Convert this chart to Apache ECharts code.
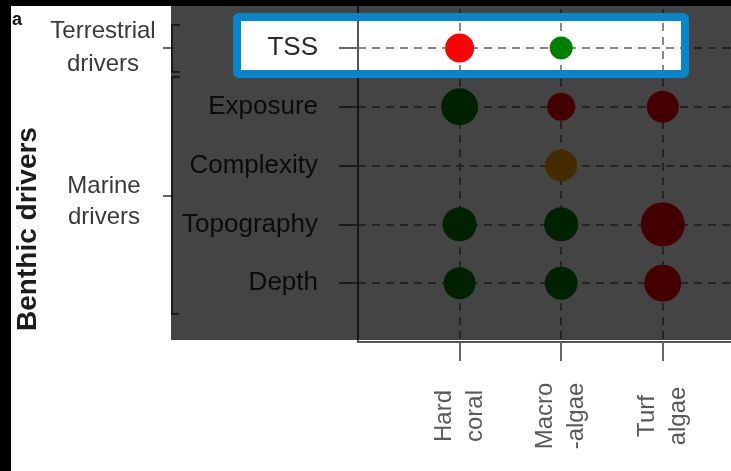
<!DOCTYPE html>
<html>
<head>
<meta charset="utf-8">
<script src="https://cdn.jsdelivr.net/npm/echarts@6/dist/echarts.min.js"></script>
<style>
html,body{margin:0;padding:0;background:#fff;}
#c{width:731px;height:471px;}
</style>
</head>
<body>
<div id="c"></div>
<script>
// Benthic groups (x axis) and drivers (y axis, top to bottom)
var benthicGroups = ['Hard\ncoral', 'Macro\n-algae', 'Turf\nalgae'];
var drivers = ['TSS', 'Exposure', 'Complexity', 'Topography', 'Depth'];

// Relative influence of each driver (null = not retained), per benthic group, in driver order
var hardCoralInfluence  = [0.29, 0.37, null, 0.34, 0.32];
var macroalgaeInfluence = [0.23, 0.28, 0.32, 0.34, 0.33];
var turfAlgaeInfluence  = [null, 0.32, null, 0.44, 0.37];

// Direction of effect: 'pos', 'neg', 'uni' (unimodal)
var hardCoralDirection  = ['neg', 'pos', null, 'pos', 'pos'];
var macroalgaeDirection = ['pos', 'neg', 'uni', 'pos', 'pos'];
var turfAlgaeDirection  = [null, 'neg', null, 'neg', 'neg'];

var dirColor = {pos: '#008000', neg: '#ff0000', uni: '#ffa500'};
var FONT = 'Liberation Sans, Arial, sans-serif';

var influence = [hardCoralInfluence, macroalgaeInfluence, turfAlgaeInfluence];
var direction = [hardCoralDirection, macroalgaeDirection, turfAlgaeDirection];
var points = [];
for (var g = 0; g < benthicGroups.length; g++) {
  for (var d = 0; d < drivers.length; d++) {
    var v = influence[g][d];
    if (v == null) continue;
    points.push({
      value: [g + 1, drivers.length - d, v],
      itemStyle: {color: dirColor[direction[g][d]], opacity: 1}
    });
  }
}

var xTicks = benthicGroups.map(function (_, i) { return i + 1; });
var yTicks = drivers.map(function (_, i) { return i + 1; });

var chart = echarts.init(document.getElementById('c'), null, {renderer: 'canvas'});

var OV = 'rgba(0,0,0,0.733)';
var option = {
  animation: false,
  backgroundColor: '#ffffff',
  grid: {left: 358, right: -10, top: -5, bottom: 129, containLabel: false, outerBoundsMode: 'none'},
  xAxis: {
    type: 'value', min: 0, max: 3.77, interval: 1,
    axisLine: {show: true, lineStyle: {color: '#555', width: 2}},
    axisTick: {show: true, customValues: xTicks, length: 19, lineStyle: {color: '#666', width: 2}},
    axisLabel: {
      customValues: xTicks,
      formatter: function (v) { return benthicGroups[Math.round(v) - 1] || ''; },
      rotate: 90, align: 'center', verticalAlign: 'middle', margin: 74,
      fontSize: 24, lineHeight: 31, color: '#595959', fontFamily: FONT
    },
    splitLine: {show: true, showMinLine: true, showMaxLine: true,
      lineStyle: {color: '#888', width: 2, type: [8, 6]}}
  },
  yAxis: {
    type: 'value', min: 0, max: 5.9, interval: 1,
    axisLine: {show: true, lineStyle: {color: '#555', width: 2}},
    axisTick: {show: true, customValues: yTicks, length: 19, lineStyle: {color: '#666', width: 2}},
    axisLabel: {
      customValues: yTicks,
      formatter: function (v) { return drivers[drivers.length - Math.round(v)] || ''; },
      margin: 40, fontSize: 26, color: '#2a2a2a', fontFamily: FONT
    },
    splitLine: {show: true, showMinLine: true, showMaxLine: true,
      lineStyle: {color: '#888', width: 2, type: [8, 6]}}
  },
  series: [{
    type: 'scatter',
    data: points,
    symbol: 'circle',
    symbolSize: function (val) { return val[2] * 100; },
    itemStyle: {opacity: 1},
    emphasis: {disabled: true},
    z: 5
  }],
  graphic: [
    // brackets
    {type: 'polyline', z: 50, shape: {points: [[180, 25], [172, 25], [172, 72], [180, 72]]}, style: {stroke: '#333', lineWidth: 1.5, fill: null}},
    {type: 'line', z: 50, shape: {x1: 163, y1: 48, x2: 172, y2: 48}, style: {stroke: '#333', lineWidth: 1.5}},
    {type: 'polyline', z: 50, shape: {points: [[180, 77], [172, 77], [172, 314], [179, 314]]}, style: {stroke: '#333', lineWidth: 1.5, fill: null}},
    {type: 'line', z: 50, shape: {x1: 163, y1: 196, x2: 172, y2: 196}, style: {stroke: '#333', lineWidth: 1.5}},
    // group labels
    {type: 'text', z: 50, style: {text: 'Terrestrial\ndrivers', x: 103, y: 48, align: 'center', verticalAlign: 'middle', font: '24px ' + FONT, lineHeight: 33, fill: '#3a3a3a'}},
    {type: 'text', z: 50, style: {text: 'Marine\ndrivers', x: 104, y: 202, align: 'center', verticalAlign: 'middle', font: '24px ' + FONT, lineHeight: 31, fill: '#3a3a3a'}},
    {type: 'text', z: 50, rotation: Math.PI / 2, x: 28, y: 229, style: {text: 'Benthic drivers', x: 0, y: 0, align: 'center', verticalAlign: 'middle', font: 'bold 28px ' + FONT, fill: '#1c1c1c'}},
    {type: 'text', z: 50, style: {text: 'a', x: 12, y: 20, align: 'left', verticalAlign: 'middle', font: 'bold 18px ' + FONT, fill: '#111'}},
    // dimming overlay with a hole for the highlighted row
    {type: 'rect', z: 100, shape: {x: 171, y: 6, width: 560, height: 11}, style: {fill: OV}},
    {type: 'rect', z: 100, shape: {x: 171, y: 74, width: 560, height: 266}, style: {fill: OV}},
    {type: 'rect', z: 100, shape: {x: 171, y: 17, width: 66, height: 57}, style: {fill: OV}},
    {type: 'rect', z: 100, shape: {x: 685, y: 17, width: 46, height: 57}, style: {fill: OV}},
    // highlight frame
    {type: 'rect', z: 101, shape: {x: 237, y: 17, width: 448, height: 57, r: 2}, style: {fill: null, stroke: '#0786cb', lineWidth: 8}},
    // black borders
    {type: 'rect', z: 102, shape: {x: 0, y: 0, width: 731, height: 6}, style: {fill: '#000'}},
    {type: 'rect', z: 102, shape: {x: 0, y: 0, width: 11, height: 471}, style: {fill: '#000'}}
  ]
};
chart.setOption(option);
</script>
</body>
</html>
